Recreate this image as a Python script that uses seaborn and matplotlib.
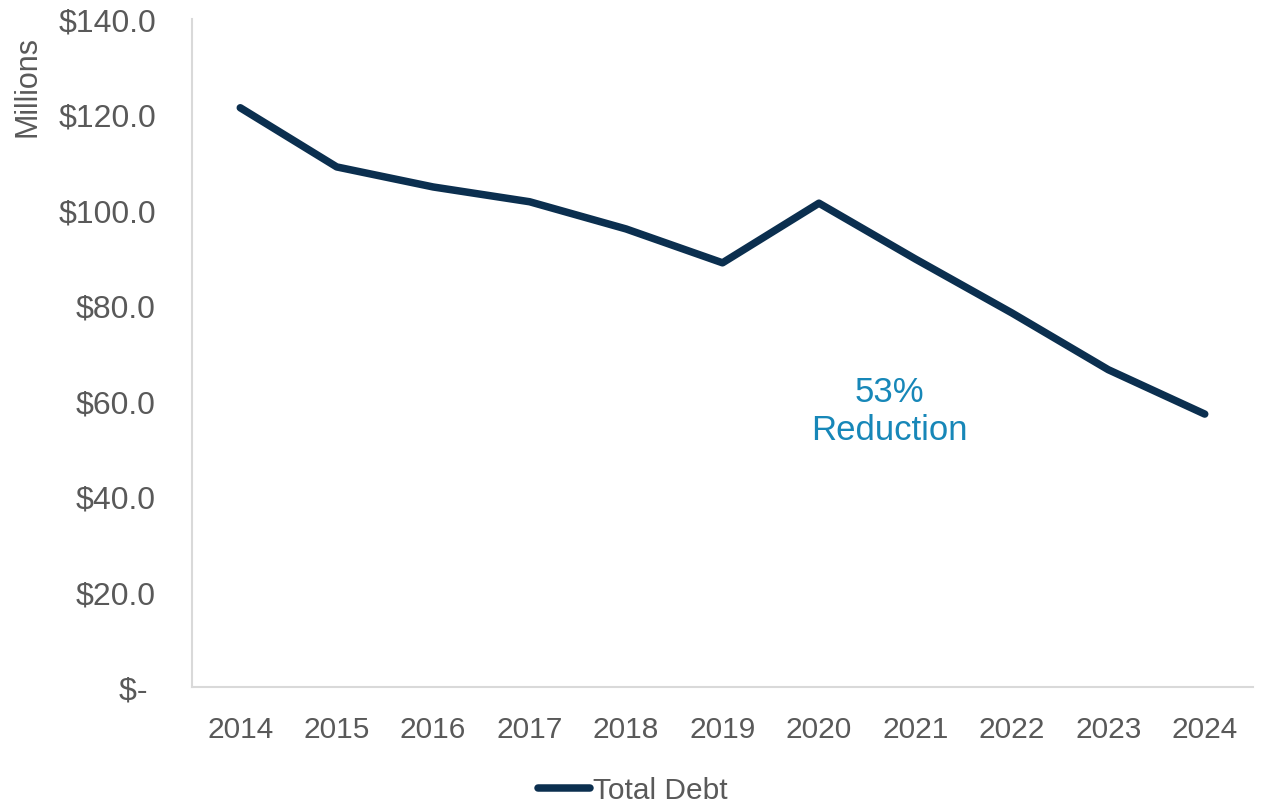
import numpy as np
import pandas as pd
import matplotlib
matplotlib.use('Agg')
import matplotlib.pyplot as plt
import seaborn as sns

# Data (millions of dollars)
years = [2014, 2015, 2016, 2017, 2018, 2019, 2020, 2021, 2022, 2023, 2024]
total_debt = [121.4, 109.0, 104.8, 101.7, 96.0, 88.9, 101.4, 89.7, 78.4, 66.5, 57.2]
y_ticks = [0, 20, 40, 60, 80, 100, 120, 140]

LINE_COLOR = '#0b2f4f'
NOTE_COLOR = '#1787b8'
TEXT_COLOR = '#595959'

sns.set_theme(style='white')
plt.rcParams['font.family'] = ['Liberation Sans', 'DejaVu Sans']

df = pd.DataFrame({'Year': years, 'Total Debt': total_debt})

fig = plt.figure(figsize=(12.66, 8.04), dpi=100)
ax = fig.add_axes([0.1517, 0.1443, 0.8380, 0.8308])

sns.lineplot(data=df, x='Year', y='Total Debt', color=LINE_COLOR, linewidth=5.4,
             label='Total Debt', ax=ax, solid_capstyle='round')

ax.set_xlim(2013.5, 2024.5)
ax.set_ylim(0, 140)
ax.set_xticks(years)
ax.set_xticklabels([str(y) for y in years], fontsize=21.5, color=TEXT_COLOR)
ax.set_yticks(y_ticks)
# Excel accounting format shows zero as "$-" with a little trailing space
ax.set_yticklabels(['$- ' if v == 0 else f'${v:.1f}' for v in y_ticks],
                   fontsize=23, color=TEXT_COLOR)
ax.tick_params(axis='both', length=0)
ax.tick_params(axis='x', pad=20)
ax.tick_params(axis='y', pad=26)

ax.set_xlabel('')
ax.set_ylabel('Millions', fontsize=22, color=TEXT_COLOR)
ax.yaxis.set_label_coords(-0.141, 0.9)

for side in ['top', 'right']:
    ax.spines[side].set_visible(False)
for side in ['left', 'bottom']:
    ax.spines[side].set_color('#d9d9d9')
    ax.spines[side].set_linewidth(1.5)

ax.text(2020.73, 58, '53%\nReduction', ha='center', va='center', fontsize=25,
        color=NOTE_COLOR, linespacing=1.2)

leg = ax.legend(loc='center', bbox_to_anchor=(0.5, 0.016), bbox_transform=fig.transFigure,
                frameon=False, fontsize=21.5, handlelength=1.75, handletextpad=0.1,
                borderpad=0)
for t in leg.get_texts():
    t.set_color(TEXT_COLOR)

fig.savefig('out.png', dpi=100)
